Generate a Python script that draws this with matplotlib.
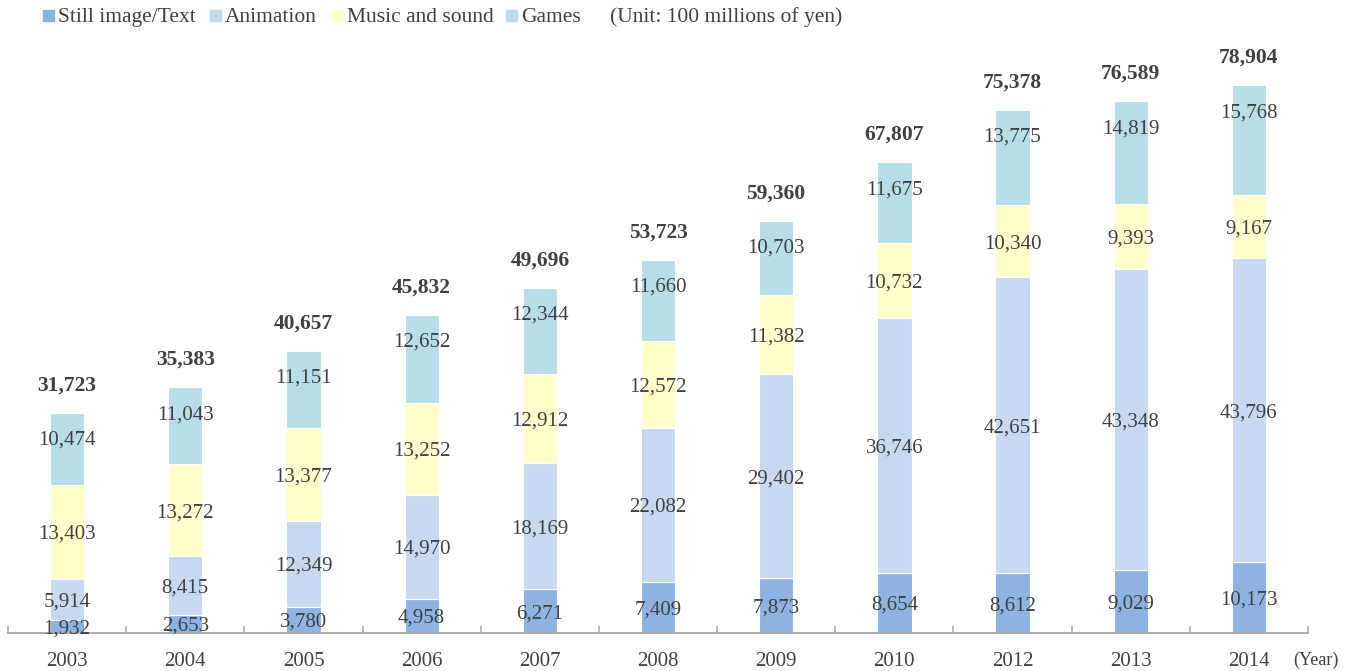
"""
content market size by category, stacked bars
"""

import matplotlib.pyplot as plt
from matplotlib.patches import Rectangle
import numpy as np

# data
# -------------------
years = ["2003", "2004", "2005", "2006", "2007", "2008", "2009", "2010", "2012", "2013", "2014"]
still_text = [1932, 2653, 3780, 4958, 6271, 7409, 7873, 8654, 8612, 9029, 10173]
animation = [5914, 8415, 12349, 14970, 18169, 22082, 29402, 36746, 42651, 43348, 43796]
music_sound = [13403, 13272, 13377, 13252, 12912, 12572, 11382, 10732, 10340, 9393, 9167]
games = [10474, 11043, 11151, 12652, 12344, 11660, 10703, 11675, 13775, 14819, 15768]
totals = [31723, 35383, 40657, 45832, 49696, 53723, 59360, 67807, 75378, 76589, 78904]

series_names = ["Still image/Text", "Animation", "Music and sound", "Games"]
series_values = [still_text, animation, music_sound, games]
colors = ["#8DB3E2", "#C6D9F1", "#FFFFCC", "#B7DEE8"]

text_col = "#404040"
plt.rcParams["font.family"] = ["Liberation Serif", "DejaVu Serif"]

fig = plt.figure(figsize=(13.58, 6.71), dpi=100)
ax = fig.add_axes([8 / 1358, 38 / 671, 1300 / 1358, 625 / 671])

x = np.arange(len(years))
bar_w = 0.29
bottom = np.zeros(len(years))

for name, vals, col in zip(series_names, series_values, colors):
    vals = np.array(vals)
    ax.bar(x, vals, bar_w, bottom=bottom, color=col, edgecolor="white", linewidth=0.8)
    for xi, b, v in zip(x, bottom, vals):
        if name == "Games":
            # labels of the top segment sit near the inside end
            ax.annotate(f"{v:,}", (xi, b + v), xytext=(0, -18), textcoords="offset points",
                        ha="center", va="center_baseline", fontsize=15, color=text_col)
        else:
            ax.text(xi, b + v / 2, f"{v:,}", ha="center", va="center_baseline",
                    fontsize=15, color=text_col)
    bottom = bottom + vals

# totals on top
for xi, t in zip(x, totals):
    ax.annotate(f"{t:,}", (xi, t), xytext=(0, 21.5), textcoords="offset points",
                ha="center", va="center_baseline", fontsize=15.5, fontweight="bold", color=text_col)

ax.set_xlim(-0.5, len(years) - 0.5)
ax.set_ylim(0, 90000)
for s in ["top", "right", "left"]:
    ax.spines[s].set_visible(False)
ax.spines["bottom"].set_color("#A6A6A6")
ax.spines["bottom"].set_linewidth(1.3)
ax.set_yticks([])
ax.set_xticks(x)
ax.set_xticklabels(years, fontsize=15, color=text_col)
ax.tick_params(axis="x", which="major", length=0, pad=14)
ax.set_xticks(np.arange(-0.5, len(years)), minor=True)
ax.tick_params(axis="x", which="minor", direction="in", length=5, width=1.1, color="#A6A6A6")

fig.text(1293 / 1358, 1 - 658 / 671, "(Year)", fontsize=13, color=text_col,
         va="center_baseline", ha="left")

# legend row at the top
legend_x = [43, 210, 332, 506]
for lx, name, col in zip(legend_x, series_names, colors):
    fig.add_artist(Rectangle((lx / 1358, 1 - 21 / 671), 11 / 1358, 11 / 671,
                             transform=fig.transFigure, color=col))
    fig.text((lx + 15) / 1358, 1 - 15 / 671, name, fontsize=15.5, color=text_col,
             va="center_baseline", ha="left")
fig.text(610 / 1358, 1 - 15 / 671, "(Unit: 100 millions of yen)", fontsize=15.5, color=text_col,
         va="center_baseline", ha="left")

fig.savefig("out.png", dpi=100)
